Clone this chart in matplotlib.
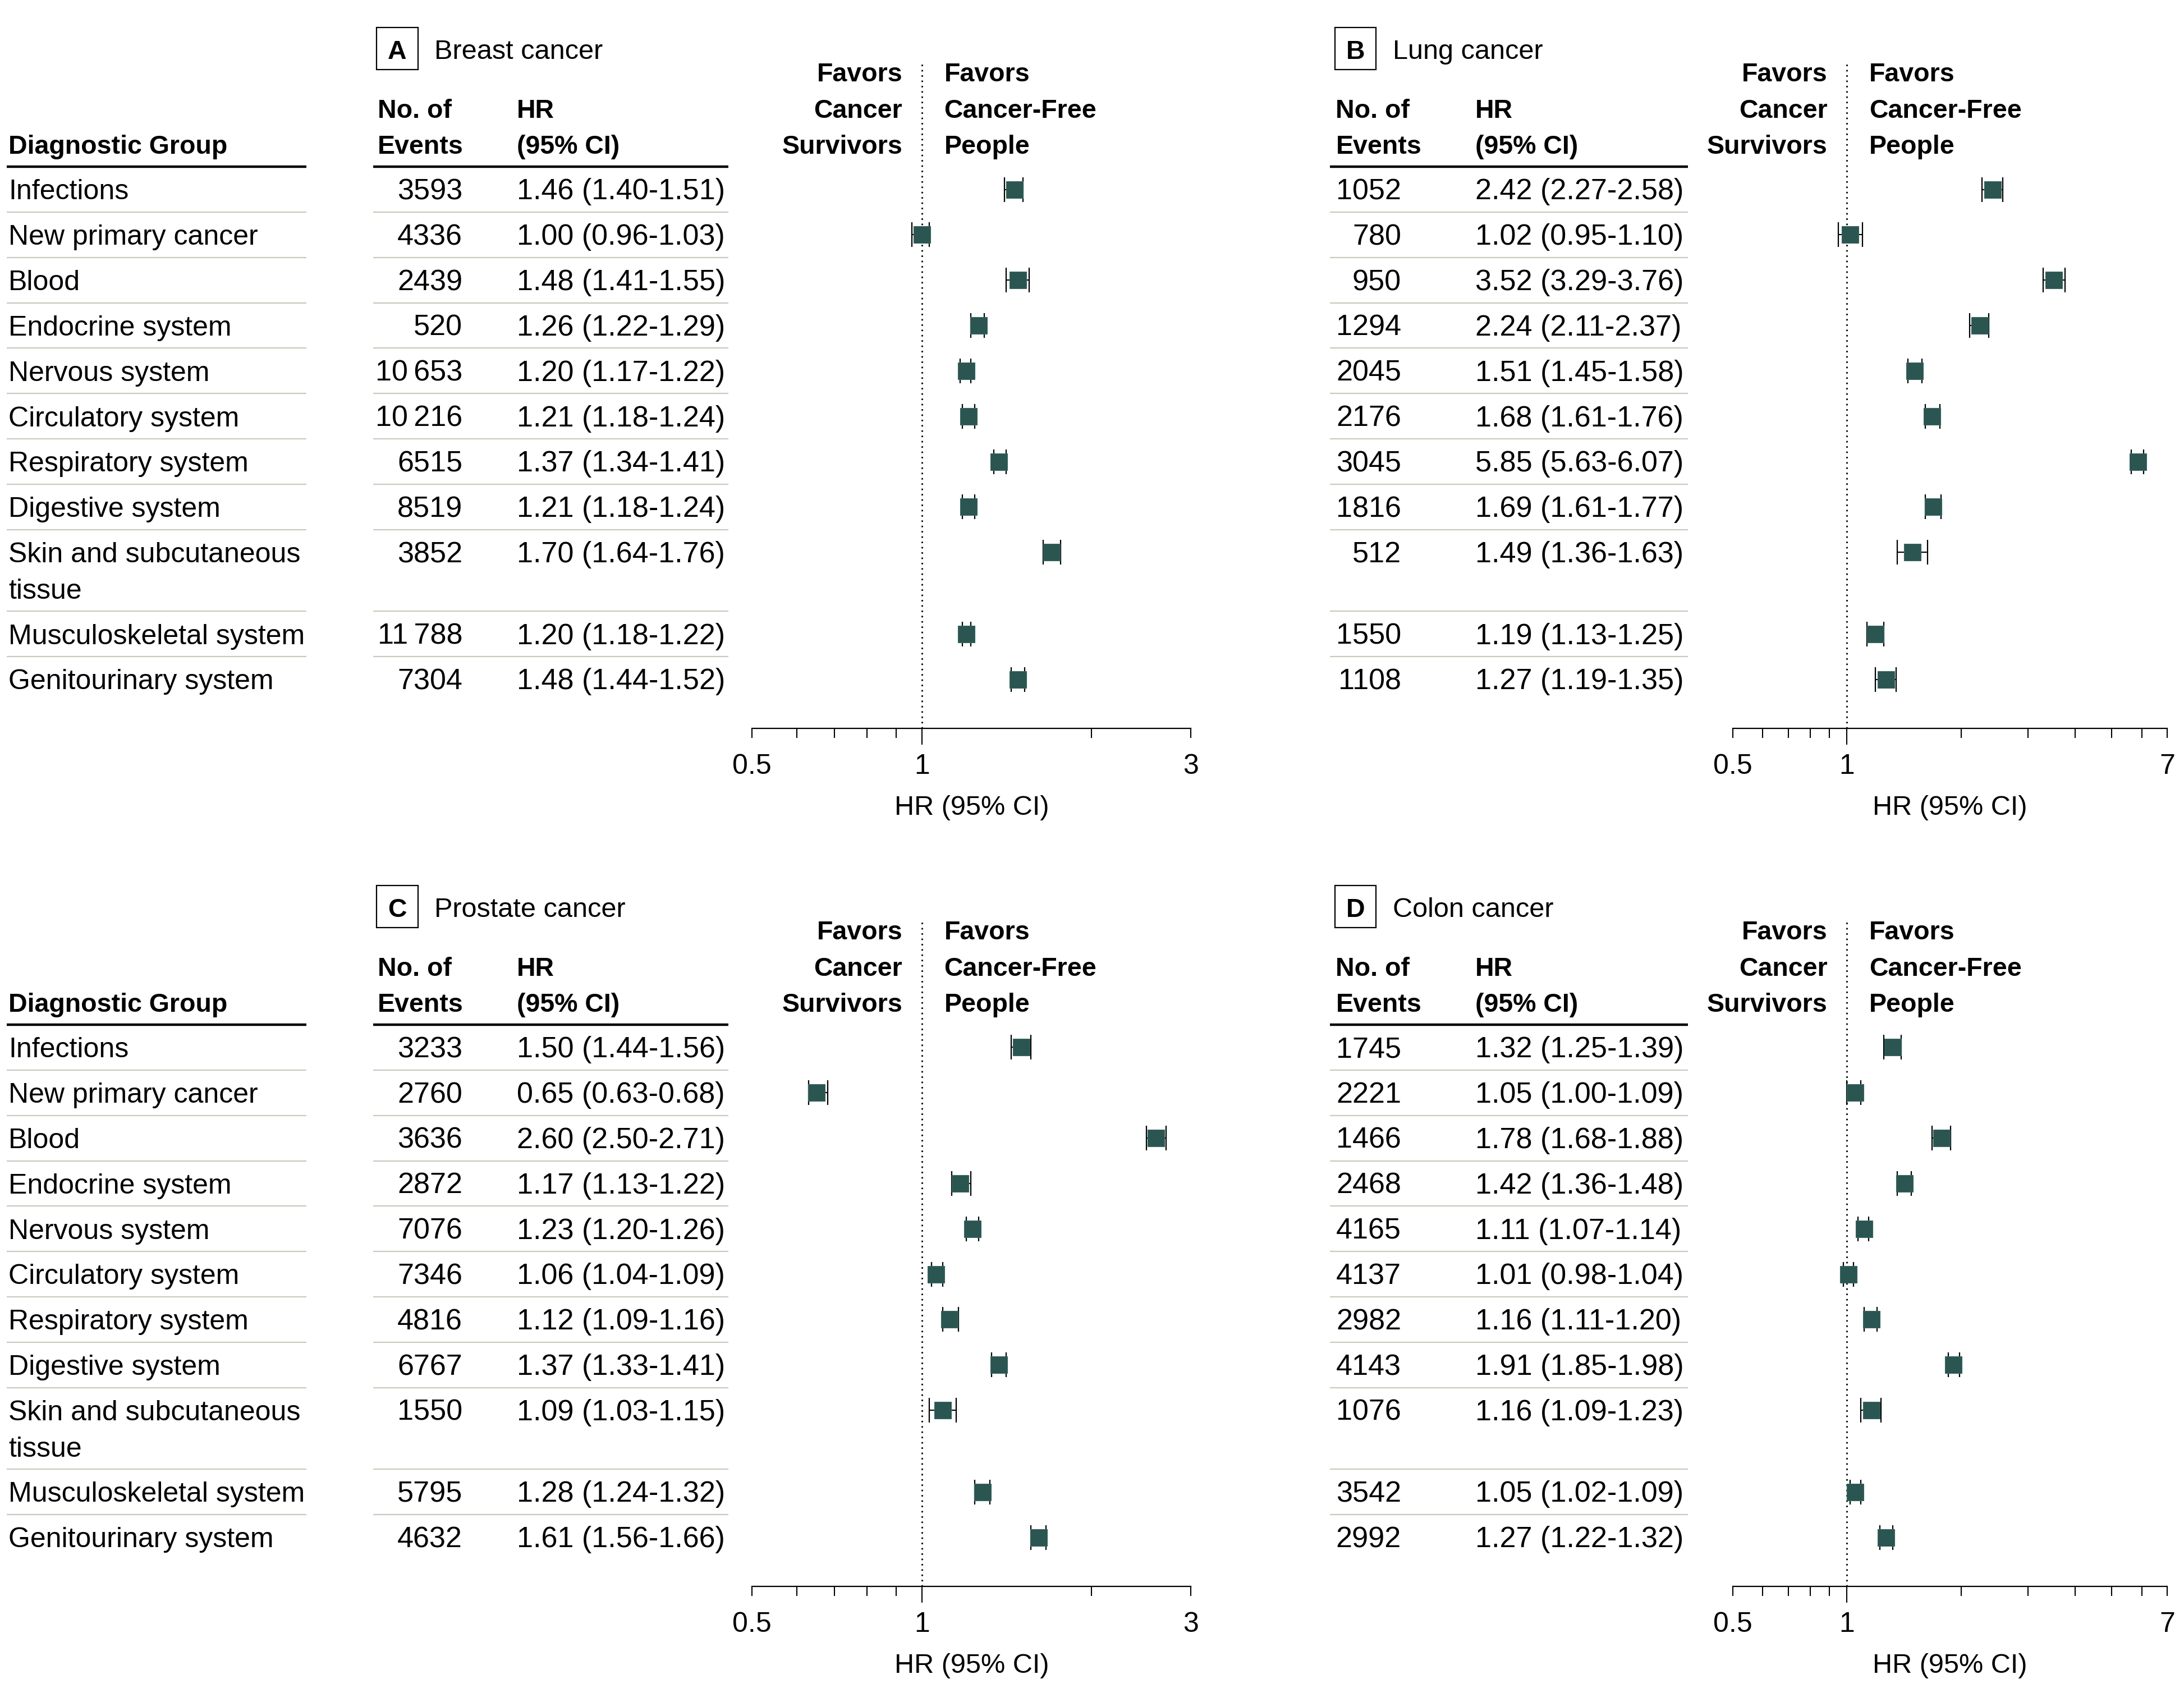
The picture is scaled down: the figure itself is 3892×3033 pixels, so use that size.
import matplotlib
matplotlib.use("Agg")
import matplotlib.pyplot as plt
import matplotlib.transforms as mtransforms
from matplotlib.patches import Rectangle
from matplotlib.ticker import FixedLocator, FixedFormatter, NullFormatter

FONT = "Liberation Sans"
plt.rcParams["font.family"] = [FONT, "DejaVu Sans"]

# ---------------- data ----------------
groups = ["Infections", "New primary cancer", "Blood", "Endocrine system",
          "Nervous system", "Circulatory system", "Respiratory system",
          "Digestive system", "Skin and subcutaneous\ntissue",
          "Musculoskeletal system", "Genitourinary system"]

breast_events = [3593, 4336, 2439, 520, 10653, 10216, 6515, 8519, 3852, 11788, 7304]
breast_hr = [1.46, 1.00, 1.48, 1.26, 1.20, 1.21, 1.37, 1.21, 1.70, 1.20, 1.48]
breast_lo = [1.40, 0.96, 1.41, 1.22, 1.17, 1.18, 1.34, 1.18, 1.64, 1.18, 1.44]
breast_hi = [1.51, 1.03, 1.55, 1.29, 1.22, 1.24, 1.41, 1.24, 1.76, 1.22, 1.52]

lung_events = [1052, 780, 950, 1294, 2045, 2176, 3045, 1816, 512, 1550, 1108]
lung_hr = [2.42, 1.02, 3.52, 2.24, 1.51, 1.68, 5.85, 1.69, 1.49, 1.19, 1.27]
lung_lo = [2.27, 0.95, 3.29, 2.11, 1.45, 1.61, 5.63, 1.61, 1.36, 1.13, 1.19]
lung_hi = [2.58, 1.10, 3.76, 2.37, 1.58, 1.76, 6.07, 1.77, 1.63, 1.25, 1.35]

prostate_events = [3233, 2760, 3636, 2872, 7076, 7346, 4816, 6767, 1550, 5795, 4632]
prostate_hr = [1.50, 0.65, 2.60, 1.17, 1.23, 1.06, 1.12, 1.37, 1.09, 1.28, 1.61]
prostate_lo = [1.44, 0.63, 2.50, 1.13, 1.20, 1.04, 1.09, 1.33, 1.03, 1.24, 1.56]
prostate_hi = [1.56, 0.68, 2.71, 1.22, 1.26, 1.09, 1.16, 1.41, 1.15, 1.32, 1.66]

colon_events = [1745, 2221, 1466, 2468, 4165, 4137, 2982, 4143, 1076, 3542, 2992]
colon_hr = [1.32, 1.05, 1.78, 1.42, 1.11, 1.01, 1.16, 1.91, 1.16, 1.05, 1.27]
colon_lo = [1.25, 1.00, 1.68, 1.36, 1.07, 0.98, 1.11, 1.85, 1.09, 1.02, 1.22]
colon_hi = [1.39, 1.09, 1.88, 1.48, 1.14, 1.04, 1.20, 1.98, 1.23, 1.09, 1.32]

ticks_a = [0.5, 1, 3]
minor_a = [0.6, 0.7, 0.8, 0.9, 2]
ticks_b = [0.5, 1, 7]
minor_b = [0.6, 0.7, 0.8, 0.9, 2, 3, 4, 5, 6]
tick_labels_a = ["0.5", "1", "3"]
tick_labels_b = ["0.5", "1", "7"]

# ---------------- layout helpers (reference pixel grid 1568 x 1222) ----------------
WR, HR_ = 1568.0, 1222.0
SCALE = 3892.0 / WR
def fx(x):
    return x / WR
def fy(y):
    return 1 - y / HR_

ROW0, ROWH = 136.0, 32.57
def ry(y):
    return (y - ROW0) / ROWH

BASE = 0.22
LINE = 0.8
FS_LAB = 36      # group names
FS_NUM = 37.5    # numbers in table
FS_HDR = 33.5    # bold headers
FS_TTL = 35      # panel titles / axis label
FS_TICK = 36
MARK = "#2b5551"
RULE = "#c8cbbd"

fig = plt.figure(figsize=(38.92, 30.33), dpi=100)
fig.patch.set_facecolor("white")


def row_positions(labels):
    pos, y = [], 0.0
    for lab in labels:
        pos.append(y)
        y += 1 + LINE * lab.count("\n")
    return pos


def draw_panel(letter, title, events, hr, lo, hi, dy, show_diag,
               ev_head, ev_right, hr_left, tab_line, box, title_x,
               axis_x, xlim, major, major_labels, minor):
    top, bottom = 45 + dy, 523 + dy
    ax = fig.add_axes([fx(axis_x[0]), fy(bottom), fx(axis_x[1]) - fx(axis_x[0]),
                       (bottom - top) / HR_])
    ax.set_xscale("log")
    ax.set_xlim(*xlim)
    ax.set_ylim(ry(523), ry(45))
    for s in ("top", "left", "right"):
        ax.spines[s].set_visible(False)
    ax.spines["bottom"].set_linewidth(1.6)
    ax.set_yticks([])
    ax.xaxis.set_major_locator(FixedLocator(major))
    ax.xaxis.set_major_formatter(FixedFormatter(major_labels))
    ax.xaxis.set_minor_locator(FixedLocator(minor))
    ax.xaxis.set_minor_formatter(NullFormatter())
    ax.tick_params(axis="x", which="both", direction="out", length=12.2,
                   width=1.5, pad=20, labelsize=FS_TICK)
    for t, loc in zip(ax.xaxis.get_major_ticks(), major):
        if loc == 1:
            t.tick1line.set_markersize(21)
    ax.patch.set_alpha(0)

    pos = row_positions(groups)
    ax.axvline(1, color="black", lw=2.0, ls=(0, (1, 2.4)), zorder=1)
    xerr = [[h - l for h, l in zip(hr, lo)], [u - h for h, u in zip(hr, hi)]]
    ax.errorbar(hr, pos, xerr=xerr, fmt="none", ecolor="black", elinewidth=1.5,
                capsize=15.5, capthick=1.6, zorder=2)
    ax.plot(hr, pos, "s", ms=21, color=MARK, mec="#3b6864", mew=0.8,
            ls="none", zorder=3)

    ax.text(0.5, ry(578) + BASE, "HR (95% CI)", fontsize=FS_TTL, ha="center",
            va="baseline",
            transform=mtransforms.blended_transform_factory(ax.transAxes, ax.transData),
            clip_on=False)

    tr = mtransforms.blended_transform_factory(fig.transFigure, ax.transData)
    trd = mtransforms.blended_transform_factory(ax.transData, ax.transData)
    tr_l = mtransforms.offset_copy(trd, fig=fig, x=-14 * SCALE, units="dots")
    tr_r = mtransforms.offset_copy(trd, fig=fig, x=16 * SCALE, units="dots")

    # title with letter box
    ax.add_artist(Rectangle((fx(box[0]), fy(50 + dy)), fx(box[1]) - fx(box[0]),
                            (50 - 19.7) / HR_, transform=fig.transFigure,
                            fill=False, ec="black", lw=1.6, clip_on=False))
    ax.text(fx((box[0] + box[1]) / 2), -3.1 + BASE, letter, fontsize=FS_HDR,
            weight="bold", ha="center", va="baseline", transform=tr, clip_on=False)
    ax.text(fx(title_x), -3.1 + BASE, title, fontsize=FS_TTL, ha="left",
            va="baseline", transform=tr, clip_on=False)

    # column headers
    hdr = dict(fontsize=FS_HDR, weight="bold", va="baseline", clip_on=False)
    if show_diag:
        ax.text(fx(6), -1 + BASE, "Diagnostic Group", ha="left", transform=tr, **hdr)
    for k, (a, b) in enumerate([("No. of", "HR"), ("Events", "(95% CI)")]):
        yy = -1.8 + LINE * k + BASE
        ax.text(fx(ev_head), yy, a, ha="left", transform=tr, **hdr)
        ax.text(fx(hr_left), yy, b, ha="left", transform=tr, **hdr)
    for k, (a, b) in enumerate([("Favors", "Favors"), ("Cancer", "Cancer-Free"),
                                ("Survivors", "People")]):
        yy = -2.6 + LINE * k + BASE
        ax.text(1, yy, a, ha="right", transform=tr_l, **hdr)
        ax.text(1, yy, b, ha="left", transform=tr_r, **hdr)

    # header rules
    segs = [tab_line] + ([(5, 220)] if show_diag else [])
    for x0, x1 in segs:
        ax.plot([fx(x0), fx(x1)], [-0.5, -0.5], color="black", lw=3.2,
                transform=tr, clip_on=False, solid_capstyle="butt")

    # rows
    for i, lab in enumerate(groups):
        y = pos[i]
        lines = lab.split("\n")
        if show_diag:
            for k, ln in enumerate(lines):
                ax.text(fx(6), y + LINE * k + BASE, ln, fontsize=FS_LAB, ha="left",
                        va="baseline", transform=tr, clip_on=False)
        n = events[i]
        ev = f"{n:,}".replace(",", "\u2009") if n >= 10000 else str(n)
        ax.text(fx(ev_right), y + BASE, ev, fontsize=FS_NUM, ha="right",
                va="baseline", transform=tr, clip_on=False)
        ax.text(fx(hr_left), y + BASE, f"{hr[i]:.2f} ({lo[i]:.2f}-{hi[i]:.2f})",
                fontsize=FS_NUM, ha="left", va="baseline", transform=tr, clip_on=False)
        if i < len(groups) - 1:
            yb = y + LINE * (len(lines) - 1) + 0.5
            for x0, x1 in segs:
                ax.plot([fx(x0), fx(x1)], [yb, yb], color=RULE, lw=1.6,
                        transform=tr, clip_on=False, solid_capstyle="butt")
    return ax


left_cols = dict(ev_head=271, ev_right=332, hr_left=371, tab_line=(268, 523),
                 box=(270.3, 300.2), title_x=312, axis_x=(540, 855),
                 xlim=(0.5, 3), major=ticks_a, major_labels=tick_labels_a,
                 minor=minor_a, show_diag=True)
right_cols = dict(ev_head=959, ev_right=1006, hr_left=1059, tab_line=(955, 1212),
                  box=(958.5, 988), title_x=1000, axis_x=(1244, 1556),
                  xlim=(0.5, 7), major=ticks_b, major_labels=tick_labels_b,
                  minor=minor_b, show_diag=False)

draw_panel("A", "Breast cancer", breast_events, breast_hr, breast_lo, breast_hi,
           0, **left_cols)
draw_panel("B", "Lung cancer", lung_events, lung_hr, lung_lo, lung_hi,
           0, **right_cols)
draw_panel("C", "Prostate cancer", prostate_events, prostate_hr, prostate_lo,
           prostate_hi, 616, **left_cols)
draw_panel("D", "Colon cancer", colon_events, colon_hr, colon_lo, colon_hi,
           616, **right_cols)

fig.savefig("out.png", dpi=100, facecolor="white")
